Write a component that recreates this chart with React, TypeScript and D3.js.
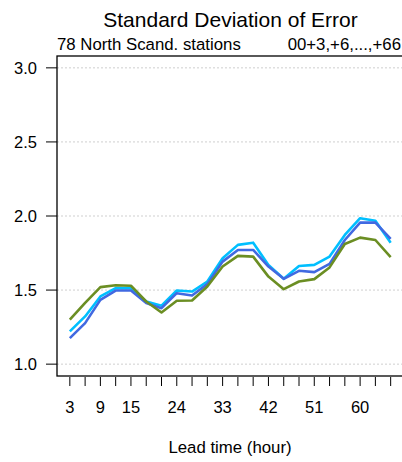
import React from "react";
import * as d3 from "d3";

const leadTimes = [3, 6, 9, 12, 15, 18, 21, 24, 27, 30, 33, 36, 39, 42, 45, 48, 51, 54, 57, 60, 63, 66];
const xTickLabels = [3, 9, 15, 24, 33, 42, 51, 60];
const yTicks = [1.0, 1.5, 2.0, 2.5, 3.0];

const seriesLightBlue = [1.221, 1.322, 1.457, 1.513, 1.513, 1.423, 1.394, 1.497, 1.49, 1.558, 1.715, 1.805, 1.82, 1.67, 1.576, 1.663, 1.67, 1.726, 1.872, 1.985, 1.968, 1.82];
const seriesBlue = [1.176, 1.277, 1.434, 1.497, 1.497, 1.412, 1.378, 1.479, 1.463, 1.54, 1.692, 1.771, 1.771, 1.659, 1.576, 1.63, 1.621, 1.677, 1.838, 1.955, 1.955, 1.845];
const seriesGreen = [1.30, 1.414, 1.52, 1.533, 1.529, 1.423, 1.349, 1.428, 1.43, 1.524, 1.659, 1.731, 1.726, 1.591, 1.506, 1.558, 1.574, 1.653, 1.811, 1.854, 1.838, 1.722];

const series = [
  { name: "lightblue", color: "#00BFFF", values: seriesLightBlue },
  { name: "blue", color: "#4169E1", values: seriesBlue },
  { name: "green", color: "#6B8E23", values: seriesGreen },
];

const W = 402;
const H = 462;
const box = { left: 57, right: 403.5, top: 56, bottom: 376 };
const font = "'Liberation Sans', Arial, Helvetica, sans-serif";

export default function App() {
  const x = d3.scaleLinear().domain([0.48, 68.52]).range([box.left, box.right]);
  const y = d3.scaleLinear().domain([0.92, 3.08]).range([box.bottom, box.top]);

  const line = d3
    .line<number>()
    .x((_, i) => x(leadTimes[i]))
    .y((d) => y(d));

  return (
    <svg
      width={W}
      height={H}
      style={{ position: "absolute", left: 0, top: 0, background: "#fff" }}
      fontFamily={font}
    >
      <rect x={0} y={0} width={W} height={H} fill="#fff" />
      {yTicks.map((t) => (
        <line
          key={"g" + t}
          x1={box.left}
          x2={box.right}
          y1={y(t)}
          y2={y(t)}
          stroke="#cfcfcf"
          strokeWidth={1}
          strokeDasharray="2,2"
        />
      ))}
      {series.map((s) => (
        <path
          key={s.name}
          d={line(s.values) || ""}
          fill="none"
          stroke={s.color}
          strokeWidth={2.6}
          strokeLinejoin="round"
        />
      ))}
      <rect
        x={box.left}
        y={box.top}
        width={box.right - box.left}
        height={box.bottom - box.top}
        fill="none"
        stroke="#000"
        strokeWidth={1.3}
      />
      {yTicks.map((t) => (
        <g key={"y" + t}>
          <line x1={46} x2={box.left} y1={y(t)} y2={y(t)} stroke="#000" strokeWidth={1} />
          <text x={37} y={y(t)} dy="0.36em" textAnchor="end" fontSize={16.5} fill="#000">
            {d3.format(".1f")(t)}
          </text>
        </g>
      ))}
      {leadTimes.map((t) => (
        <line key={"xt" + t} x1={x(t)} x2={x(t)} y1={377} y2={386} stroke="#000" strokeWidth={1} />
      ))}
      {xTickLabels.map((t) => (
        <text key={"xl" + t} x={x(t)} y={413} textAnchor="middle" fontSize={16.5} fill="#000">
          {t}
        </text>
      ))}
      <text x={230.5} y={27} textAnchor="middle" fontSize={21} fill="#000">
        Standard Deviation of Error
      </text>
      <text x={57} y={50} textAnchor="start" fontSize={16.8} fill="#000">
        78 North Scand. stations
      </text>
      <text x={401} y={50} textAnchor="end" fontSize={16.8} fill="#000">
        00+3,+6,...,+66
      </text>
      <text x={230} y={453} textAnchor="middle" fontSize={16.8} fill="#000">
        Lead time (hour)
      </text>
    </svg>
  );
}
